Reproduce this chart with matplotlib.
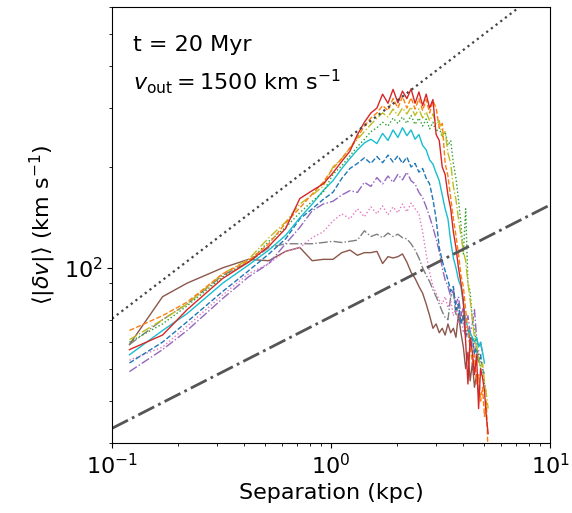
import matplotlib
matplotlib.use("Agg")
import matplotlib.pyplot as plt
import numpy as np

nan = np.nan

# separation bins (kpc)
sep = [0.12, 0.17, 0.22, 0.32, 0.42, 0.52, 0.62, 0.72, 0.82, 0.92,
       1.02, 1.12, 1.22, 1.32, 1.42, 1.52, 1.62, 1.72, 1.82, 1.92,
       2.02, 2.12, 2.22, 2.32, 2.42, 2.52, 2.62, 2.72, 2.82, 2.92,
       3.02, 3.12, 3.22, 3.32, 3.42, 3.52, 3.62, 3.72, 3.82, 3.92,
       4.02, 4.12, 4.22, 4.32, 4.42, 4.52, 4.62, 4.72, 4.82, 4.92,
       5.02, 5.12, 5.22]

# mean velocity difference (km/s), one list per snapshot
v_red = [57, 63, 75, 93, 104, 116, 131, 161, 170, 178,
         192, 208, 223, 250, 272, 290, 300, 330, 310, 341,
         311, 337, 320, 342, 310, 335, 305, 330, 300, 318,
         250, 240, 200, 190, 165, 150, 128, 115, 100, 90,
         80, 60, 45, 62, 56, 48, 55, 38, 50, 47,
         43, 36, 32]
v_orange = [65, 72, 79, 96, 105, 118, 136, 151, 166, 180,
            198, 212, 228, 245, 265, 280, 290, 305, 295, 320,
            300, 325, 300, 322, 298, 320, 295, 318, 290, 315,
            300, 262, 270, 205, 188, 162, 140, 125, 110, 95,
            88, 75, 65, 58, 52, 55, 45, 48, 40, 44,
            36, 40, 27]
v_olive = [61, 70, 78, 96, 106, 123, 137, 155, 165, 175,
           200, 212, 228, 242, 255, 268, 280, 290, 282, 298,
           285, 300, 288, 302, 285, 298, 280, 292, 275, 288,
           268, 275, 248, 255, 220, 205, 175, 160, 140, 125,
           112, 105, 90, 80, 70, 62, 58, 54, 50, 52,
           46, 42, 38]
v_green = [60, 68, 77, 94, 104, 120, 132, 146, 158, 168,
           190, 202, 216, 230, 242, 255, 262, 272, 265, 280,
           270, 282, 270, 285, 268, 280, 265, 278, 260, 272,
           255, 262, 245, 255, 232, 240, 205, 185, 160, 135,
           110, 150, 90, 85, 70, 66, 58, 55, 50, 48,
           45, 42, nan]
v_cyan = [55, 65, 73, 90, 102, 113, 125, 141, 155, 170,
          182, 198, 212, 225, 236, 242, 235, 252, 240, 258,
          245, 262, 248, 258, 242, 250, 232, 225, 210, 204,
          192, 182, 165, 150, 140, 120, 107, 100, 92, 88,
          78, 70, 66, 64, 62, 60, 62, 58, 60, 56,
          52, nan, nan]
v_blue = [52, 60, 69, 85, 98, 110, 122, 140, 150, 160,
          168, 185, 198, 205, 213, 205, 215, 206, 217, 207,
          216, 205, 214, 200, 205, 193, 198, 185, 178, 160,
          140, 115, 105, 98, 92, 85, 88, 75, 78, 68,
          72, 62, 66, 58, 62, 55, 58, 52, 55, 50,
          48, nan, nan]
v_purple = [49, 57, 65, 81, 94, 103, 118, 132, 148, 155,
            158, 165, 170, 168, 180, 175, 186, 178, 188, 180,
            190, 183, 193, 182, 178, 168, 162, 152, 142, 132,
            122, 112, 100, 92, 88, 82, 86, 78, 82, 72,
            76, 68, 72, 64, 68, 75, 62, 58, 60, 55,
            nan, nan, nan]
v_pink = [53, 58, 67, 83, 96, 103, 112, 115, 123, 128,
          138, 145, 140, 150, 142, 152, 145, 153, 144, 152,
          146, 155, 147, 156, 150, 145, 128, 110, 97, 88,
          84, 80, 78, 82, 76, 80, 72, 76, 68, 72,
          64, 68, 62, 65, 58, 60, 55, 57, 52, nan,
          nan, nan, nan]
v_gray = [59, 70, 78, 95, 104, 115, 118, 118, 118, 119,
          120, 119, 120, 121, 129, 124, 126, 123, 127, 124,
          126, 123, 122, 118, 113, 107, 100, 95, 91, 86,
          82, 78, 74, 71, 70, 82, 85, 72, 78, 68,
          72, 64, 66, 60, 62, 56, 58, 52, nan, nan,
          nan, nan, nan]
v_brown = [59, 82, 90, 100, 106, 105, 112, 115, 105, 106,
           106, 111, 113, 109, 111, 111, 112, 103, 108, 107,
           108, 110, 104, 97, 93, 88, 84, 78, 72, 66,
           68, 64, 66, 63, 68, 64, 66, 62, 73, 64,
           58, 50, 56, 46, 52, 44, 48, 42, nan, nan,
           nan, nan, nan]

# reference power laws: amplitude at 1 kpc and slope
dotted_amp, dotted_slope = 223.0, 1 / 2
dashdot_amp, dashdot_slope = 71.5, 1 / 3

curves = [
    (v_brown, "tab:brown", "-"),
    (v_gray, "tab:gray", "-."),
    (v_pink, "tab:pink", ":"),
    (v_purple, "tab:purple", "-."),
    (v_blue, "tab:blue", "--"),
    (v_cyan, "tab:cyan", "-"),
    (v_green, "tab:green", ":"),
    (v_olive, "tab:olive", "-."),
    (v_orange, "tab:orange", "--"),
    (v_red, "tab:red", "-"),
]

fig = plt.figure(figsize=(5.72, 5.13), dpi=100)
ax = fig.add_axes([0.196, 0.1365, 0.7655, 0.8495])

for values, color, style in curves:
    ax.plot(sep, values, color=color, linestyle=style, linewidth=1.0)

xline = np.array([0.1, 10.0])
ax.plot(xline, dotted_amp * xline ** dotted_slope, ":", color="#444444", linewidth=1.6)
ax.plot(xline, dashdot_amp * xline ** dashdot_slope, "-.", color="#555555", linewidth=2.0)

ax.set_xscale("log")
ax.set_yscale("log")
ax.set_xlim(0.1, 10)
ax.set_ylim(30, 600)

ax.set_xlabel("Separation (kpc)", fontsize=16)
ax.set_ylabel(r"$\langle|\delta v|\rangle$ (km s$^{-1}$)", fontsize=16)
ax.tick_params(axis="both", which="major", labelsize=16)

ax.text(0.048, 0.9, "t = 20 Myr", transform=ax.transAxes, fontsize=16)
ax.text(0.048, 0.81, r"$v_{\rm out} = 1500\ {\rm km\ s^{-1}}$",
        transform=ax.transAxes, fontsize=16)

fig.savefig("out.png", dpi=100)
plt.close(fig)
